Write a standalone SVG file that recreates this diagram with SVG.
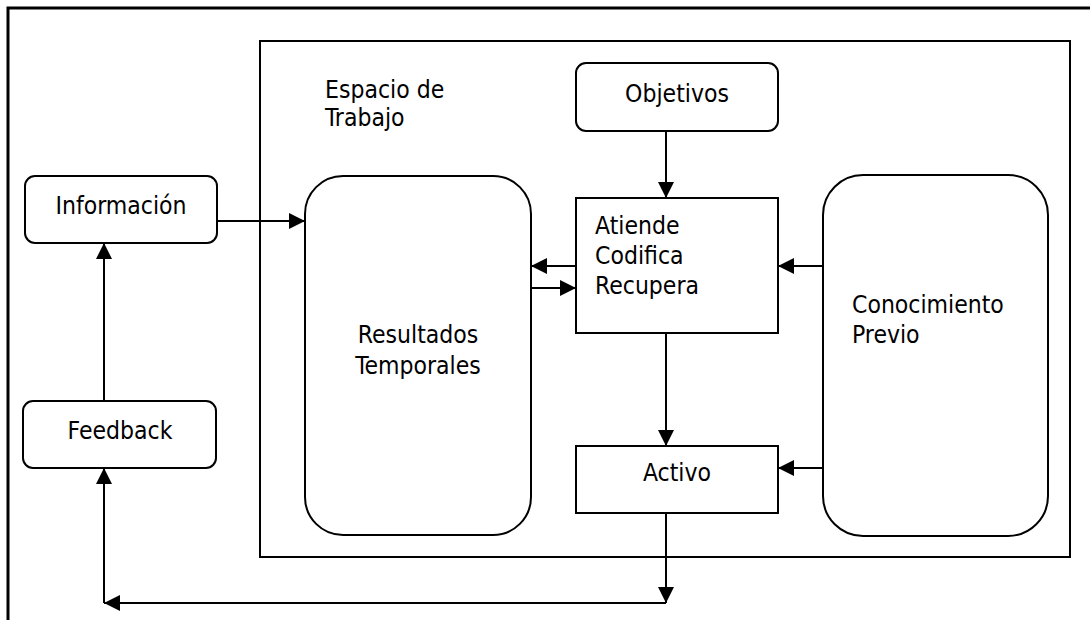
<svg xmlns="http://www.w3.org/2000/svg" width="1090" height="620" viewBox="0 0 1090 620">
<style>
.box{fill:#fff;stroke:#000;stroke-width:2}
.frame{fill:none;stroke:#000;stroke-width:2.5}
.t{font-family:"DejaVu Sans Condensed","DejaVu Sans",sans-serif;font-stretch:condensed;font-size:24.5px;fill:#000}
.m{text-anchor:middle}
.c{fill:none;stroke:#000;stroke-width:2}
</style>
<defs>
<marker id="ah" markerUnits="userSpaceOnUse" markerWidth="17" markerHeight="17" viewBox="0 0 17 17" refX="16" refY="8.5" orient="auto">
<path d="M0,0.5 L16,8.5 L0,16.5 Z" fill="#000"/>
</marker>
</defs>
<rect width="1090" height="620" fill="#fff"/>
<path class="frame" d="M1090 8 H8 V620" style="stroke-width:3"/>
<rect class="frame" x="260" y="41" width="810" height="516" style="stroke-width:2"/>
<text class="t" x="325" y="98">Espacio de</text>
<text class="t" x="325" y="126">Trabajo</text>
<g id="informacion"><rect class="box" x="25" y="176" width="192" height="67" rx="10"/><text class="t m" x="121" y="214">Información</text></g>
<g id="feedback"><rect class="box" x="23" y="401" width="193" height="67" rx="10"/><text class="t m" x="120" y="439">Feedback</text></g>
<g id="objetivos"><rect class="box" x="576" y="63" width="202" height="68" rx="10"/><text class="t m" x="677" y="102">Objetivos</text></g>
<g id="resultados"><rect class="box" x="305" y="176" width="226" height="359" rx="38"/><text class="t m" x="418" y="343">Resultados</text><text class="t m" x="418" y="374">Temporales</text></g>
<g id="atiende"><rect class="box" x="576" y="198" width="202" height="135"/><text class="t" x="595" y="234">Atiende</text><text class="t" x="595" y="264">Codifica</text><text class="t" x="595" y="294">Recupera</text></g>
<g id="activo"><rect class="box" x="576" y="446" width="202" height="67"/><text class="t m" x="677" y="481">Activo</text></g>
<g id="conocimiento"><rect class="box" x="823" y="175" width="225" height="361" rx="40"/><text class="t" x="852" y="313">Conocimiento</text><text class="t" x="852" y="343">Previo</text></g>
<g id="connectors">
<line class="c" x1="217" y1="221" x2="305" y2="221" marker-end="url(#ah)"/>
<line class="c" x1="666" y1="131" x2="666" y2="198" marker-end="url(#ah)"/>
<line class="c" x1="576" y1="266" x2="531" y2="266" marker-end="url(#ah)"/>
<line class="c" x1="531" y1="288" x2="576" y2="288" marker-end="url(#ah)"/>
<line class="c" x1="823" y1="266" x2="778" y2="266" marker-end="url(#ah)"/>
<line class="c" x1="823" y1="468" x2="778" y2="468" marker-end="url(#ah)"/>
<line class="c" x1="666" y1="333" x2="666" y2="446" marker-end="url(#ah)"/>
<line class="c" x1="666" y1="513" x2="666" y2="603" marker-end="url(#ah)"/>
<line class="c" x1="666" y1="603" x2="104" y2="603" marker-end="url(#ah)"/>
<line class="c" x1="104" y1="603" x2="104" y2="468" marker-end="url(#ah)"/>
<line class="c" x1="104" y1="401" x2="104" y2="243" marker-end="url(#ah)"/>
</g>
</svg>
